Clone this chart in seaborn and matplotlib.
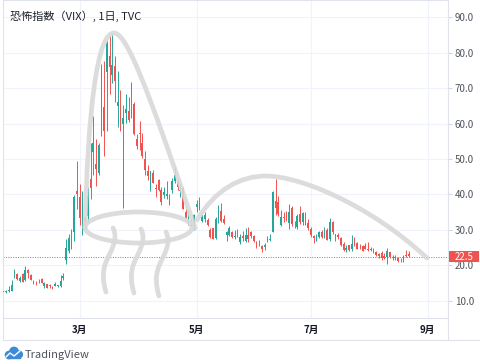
import matplotlib
matplotlib.use("Agg")
import matplotlib.pyplot as plt
import matplotlib.transforms as mtransforms
from matplotlib.path import Path
from matplotlib.patches import PathPatch, Ellipse, Circle, Rectangle
from matplotlib.lines import Line2D
import numpy as np
import pandas as pd
import seaborn as sns

# VIX daily candles, 2020-01-21 .. 2020-08-21
opens = [12.60, 12.57, 12.70, 12.93, 18.12, 17.70, 15.56, 17.54, 16.00,   # Jan
         18.83, 17.33, 15.49, 15.21, 15.25, 16.25, 14.36, 14.81, 14.52, 13.85,
         14.30, 14.19, 14.33, 16.46, 21.56, 24.22, 26.31, 29.35, 41.03,   # Feb
         39.38, 31.53, 33.56, 33.98, 44.23, 51.89, 48.50, 46.10, 60.40, 64.51,
         74.50, 79.15, 73.70, 76.16, 64.93, 64.73, 59.78, 62.85, 63.53, 64.56,
         65.50, 55.73,                                                     # Mar
         57.38, 54.61, 50.05, 46.72, 42.41, 46.16, 41.78, 43.97, 41.35, 39.78,
         39.53, 37.06, 41.25, 43.91, 43.87, 40.98, 41.47, 35.16, 32.42, 31.19,
         31.94,                                                            # Apr
         36.40, 37.53, 32.62, 33.21, 32.82, 29.90, 30.50, 27.85, 32.75, 35.27,
         33.18, 28.64, 28.51, 29.54, 28.15, 28.47, 26.56, 28.18, 26.99, 28.56,  # May
         29.46, 28.36, 26.44, 25.71, 25.45, 25.14, 26.67, 27.25, 29.52, 38.09,
         38.02, 31.34, 33.72, 34.86, 32.06, 36.28, 31.33, 30.94, 34.59, 32.17,
         34.91, 32.05,                                                     # Jun
         30.32, 28.21, 27.93, 28.11, 29.30, 28.27, 29.93, 27.52, 32.37, 28.89,
         28.60, 27.79, 26.19, 24.41, 25.66, 24.65, 26.79, 26.22, 25.49, 25.49,
         25.57, 24.77,                                                     # Jul
         24.77, 24.75, 23.84, 23.25, 23.49, 22.68, 22.41, 23.77, 22.17, 22.39,
         22.10, 21.67, 21.08, 22.95, 23.29]                                # Aug
highs = [13.43, 13.15, 14.35, 15.88, 19.02, 17.89, 16.99, 18.02, 19.99,
         18.91, 17.48, 15.98, 15.63, 16.06, 16.52, 15.31, 14.81, 14.75, 14.35,
         15.27, 14.58, 17.19, 17.92, 27.56, 28.95, 30.19, 39.95, 49.48,
         42.95, 41.03, 33.60, 42.14, 54.39, 62.12, 55.52, 54.37, 76.83, 77.57,
         83.56, 84.83, 85.47, 79.08, 74.77, 69.52, 65.33, 68.24, 67.44, 71.66,
         66.11, 56.94,
         60.59, 57.24, 52.29, 48.34, 46.00, 46.86, 42.97, 44.48, 42.16, 42.05,
         43.78, 40.01, 44.58, 47.76, 44.06, 43.05, 42.11, 36.85, 35.56, 33.09,
         34.45,
         38.41, 39.18, 34.48, 35.09, 33.37, 30.44, 30.58, 33.57, 37.05, 37.66,
         34.33, 29.61, 31.24, 29.74, 30.06, 30.17, 28.94, 29.85, 30.63, 30.79,
         29.71, 28.65, 26.93, 27.05, 25.76, 26.35, 28.41, 28.93, 41.08, 44.44,
         39.46, 35.53, 35.04, 35.43, 37.22, 36.72, 32.46, 34.48, 36.71, 35.21,
         35.17, 33.01,
         30.93, 28.69, 28.76, 29.63, 29.86, 30.85, 30.59, 33.36, 32.46, 28.90,
         29.25, 28.02, 26.75, 25.75, 25.76, 28.46, 28.04, 26.70, 26.09, 25.68,
         26.45, 26.48,
         25.31, 24.97, 24.17, 23.58, 24.07, 23.45, 24.90, 23.88, 22.85, 22.87,
         22.50, 22.25, 22.95, 24.37, 23.98]
lows = [12.41, 12.17, 12.57, 12.79, 16.49, 15.93, 15.36, 15.47, 15.55,
        16.42, 15.85, 14.70, 14.53, 15.05, 15.03, 13.80, 13.68, 13.73, 13.38,
        14.29, 13.96, 13.81, 15.91, 20.53, 23.61, 24.63, 27.03, 36.02,
        31.39, 28.62, 30.19, 32.25, 38.67, 45.43, 42.39, 45.43, 56.48, 50.76,
        57.99, 68.43, 71.46, 66.09, 59.04, 57.92, 36.20, 60.27, 60.45, 61.59,
        56.86, 52.80,
        52.55, 50.28, 45.54, 44.10, 40.85, 43.16, 39.32, 41.01, 37.05, 38.89,
        38.67, 37.05, 40.47, 43.26, 41.24, 39.40, 35.93, 33.20, 31.50, 31.10,
        30.10,
        35.08, 35.62, 32.24, 32.36, 31.16, 27.86, 27.52, 27.39, 31.88, 32.12,
        31.76, 27.02, 28.28, 27.80, 27.35, 28.16, 26.13, 26.91, 26.74, 26.71,
        27.72, 26.71, 24.96, 25.37, 23.92, 24.39, 26.53, 26.98, 29.33, 34.14,
        33.92, 31.17, 32.28, 32.64, 30.33, 31.17, 30.59, 30.29, 31.83, 31.31,
        31.51, 30.04,
        27.97, 26.34, 26.89, 27.68, 27.81, 27.67, 27.15, 26.88, 28.93, 26.96,
        27.49, 25.55, 24.22, 23.91, 24.08, 24.07, 25.58, 24.71, 24.68, 23.97,
        24.58, 24.09,
        23.98, 23.61, 22.74, 22.23, 21.62, 21.83, 20.40, 22.15, 21.55, 21.42,
        21.08, 20.94, 20.94, 22.53, 22.29]
closes = [12.85, 12.91, 12.98, 14.56, 18.23, 16.28, 16.39, 15.49, 18.84,
          17.97, 16.05, 15.15, 14.96, 15.47, 15.04, 15.18, 13.74, 14.15, 13.68,
          14.83, 14.38, 15.56, 17.08, 25.03, 27.85, 27.56, 39.16, 40.11,
          33.42, 36.82, 31.99, 39.62, 41.94, 54.46, 47.30, 53.90, 75.47, 57.83,
          82.69, 75.91, 76.45, 72.00, 66.04, 61.59, 61.67, 63.95, 61.00, 65.54,
          57.08, 53.54,
          57.06, 50.91, 46.80, 45.24, 46.70, 43.35, 41.67, 41.17, 37.76, 40.84,
          40.11, 38.15, 43.83, 45.41, 41.98, 41.38, 35.93, 33.29, 33.57, 31.23,
          34.15,
          37.19, 35.97, 33.61, 34.12, 31.44, 27.98, 27.57, 33.04, 35.28, 32.61,
          31.89, 29.30, 30.53, 27.99, 28.16, 28.16, 28.01, 27.62, 28.59, 27.51,
          28.23, 26.84, 25.66, 25.81, 24.52, 25.81, 27.57, 27.57, 40.79, 36.09,
          34.40, 33.67, 33.47, 32.94, 35.12, 31.77, 31.37, 33.84, 32.22, 34.73,
          31.78, 30.43,
          28.62, 27.68, 27.94, 29.43, 28.08, 29.26, 27.29, 32.19, 29.52, 27.76,
          28.00, 25.68, 24.46, 24.84, 24.32, 26.08, 25.84, 24.74, 25.44, 24.10,
          24.76, 24.46,
          24.28, 23.76, 22.99, 22.65, 22.21, 22.13, 24.03, 22.28, 22.13, 22.05,
          21.35, 21.51, 22.54, 22.72, 22.54]

month_starts = ["2020-03-02", "2020-05-01", "2020-07-01", "2020-09-01"]
month_labels = ["3月", "5月", "7月", "9月"]
price_ticks = [10, 20, 30, 40, 50, 60, 70, 80, 90]
last_price = 22.5
title = "恐怖指数（VIX）, 1日, TVC"

GREEN = "#26a69a"
RED = "#ef5350"
LINE = "#e0e3eb"
SHAPE = "#d9d9d9"

sns.set_style("white")
plt.rcParams["font.family"] = ["Noto Sans CJK JP", "DejaVu Sans"]

holidays = ["2020-02-17", "2020-04-10", "2020-05-25", "2020-07-03", "2020-09-07"]
days = pd.bdate_range("2020-01-21", "2020-09-30", freq="C", holidays=holidays)
df = pd.DataFrame({"open": opens, "high": highs, "low": lows, "close": closes})
df["date"] = days[:len(df)]
df["i"] = np.arange(len(df))
df["up"] = df["close"] >= df["open"]
tick_pos = [days.get_loc(pd.Timestamp(d)) for d in month_starts]

W, H = 480, 364
fig = plt.figure(figsize=(W / 100, H / 100), dpi=100)
ax = fig.add_axes([3 / W, (H - 318) / H, 445 / W, 318 / H])

# candles
for up, col in [(True, GREEN), (False, RED)]:
    d = df[df["up"] == up]
    ax.vlines(d["i"], d["low"], d["high"], color=col, lw=0.7, zorder=2)
    body = (d["close"] - d["open"]).abs().clip(lower=0.15)
    ax.bar(d["i"], body, bottom=d[["open", "close"]].min(axis=1), width=0.62,
           color=col, linewidth=0, zorder=3)

ax.axhline(last_price, color=RED, lw=0.7, ls=(0, (1, 1.5)), zorder=1)

ax.set_xlim(-0.18, 163.4)
ax.set_ylim(5.21, 94.79)
ax.yaxis.tick_right()
ax.set_yticks(price_ticks)
ax.set_yticklabels([f"{v:.1f}" for v in price_ticks])
ax.set_xticks(tick_pos)
ax.set_xticklabels(month_labels, fontweight="bold")
ax.tick_params(axis="y", length=3, width=0.6, color="#c9ccd4", pad=2,
               labelsize=7, labelcolor="#50535e")
ax.tick_params(axis="x", length=0, pad=5, labelsize=7, labelcolor="#131722")
ax.grid(True, color="#f0f3fa", lw=0.8)
for s in ax.spines.values():
    s.set_color(LINE)
    s.set_linewidth(0.8)

# last price label on the price axis
blend = mtransforms.blended_transform_factory(ax.transAxes, ax.transData)
ax.add_patch(Rectangle((1.003, last_price - 1.55), 0.067, 3.1, transform=blend,
                       facecolor=RED, edgecolor="none", clip_on=False, zorder=5))
ax.text(1.0365, last_price, f"{last_price:.1f}", transform=blend, color="white",
        fontsize=7, ha="center", va="center", clip_on=False, zorder=6)

# pixel-space transform (y down) for frame and drawn shapes
px = mtransforms.Affine2D().scale(1 / W, -1 / H).translate(0, 1) + fig.transFigure

for xs, ys in [([3, 480], [340, 340]), ([448, 448], [318, 340]), ([3, 3], [318, 340])]:
    fig.add_artist(Line2D(xs, ys, transform=px, color=LINE, lw=0.8))

fig.text(10 / W, 1 - 16 / H, title, fontsize=8, color="#1e222d", va="center")

def curve(verts):
    codes = [Path.MOVETO] + [Path.CURVE4] * (len(verts) - 1)
    return PathPatch(Path(verts, codes), transform=px, fill=False, edgecolor=SHAPE,
                     lw=3.4, capstyle="round", joinstyle="round", alpha=0.9, zorder=4)

# big arch over the spike
fig.add_artist(curve([(85, 228), (88, 110), (97, 33), (114, 33),
                      (126, 33), (145, 80), (195, 228)]))
# second, lower arch
fig.add_artist(curve([(197, 220), (215, 190), (240, 176), (266, 176),
                      (300, 176), (370, 205), (427, 258)]))
# ellipse
fig.add_artist(Ellipse((138.5, 227.5), 107, 31, transform=px, fill=False,
                       edgecolor=SHAPE, lw=3.4, alpha=0.9, zorder=4))
# steam lines
for dx, dy in [(0, 0), (28, 1), (53, 4)]:
    pts = [(113, 228), (119, 240), (110, 252), (106, 262),
           (102, 272), (103, 282), (106, 292)]
    fig.add_artist(curve([(x + dx, y + dy) for x, y in pts]))

# TradingView logo
for cx, cy, r in [(9, 355, 3.6), (14, 351.5, 4.2), (19, 354.5, 3.4)]:
    fig.add_artist(Circle((cx, cy), r, transform=px, color="#3d8bd8", zorder=5))
fig.add_artist(Rectangle((7, 354), 13, 4, transform=px, color="#3d8bd8", zorder=5))
fig.add_artist(Line2D([6, 10, 14, 20], [357, 353, 356, 351], transform=px,
                      color="white", lw=1.0, zorder=6))
fig.text(25 / W, 1 - 355 / H, "TradingView", fontsize=8, color="#50535e", va="center")

fig.savefig("out.png", dpi=100)
